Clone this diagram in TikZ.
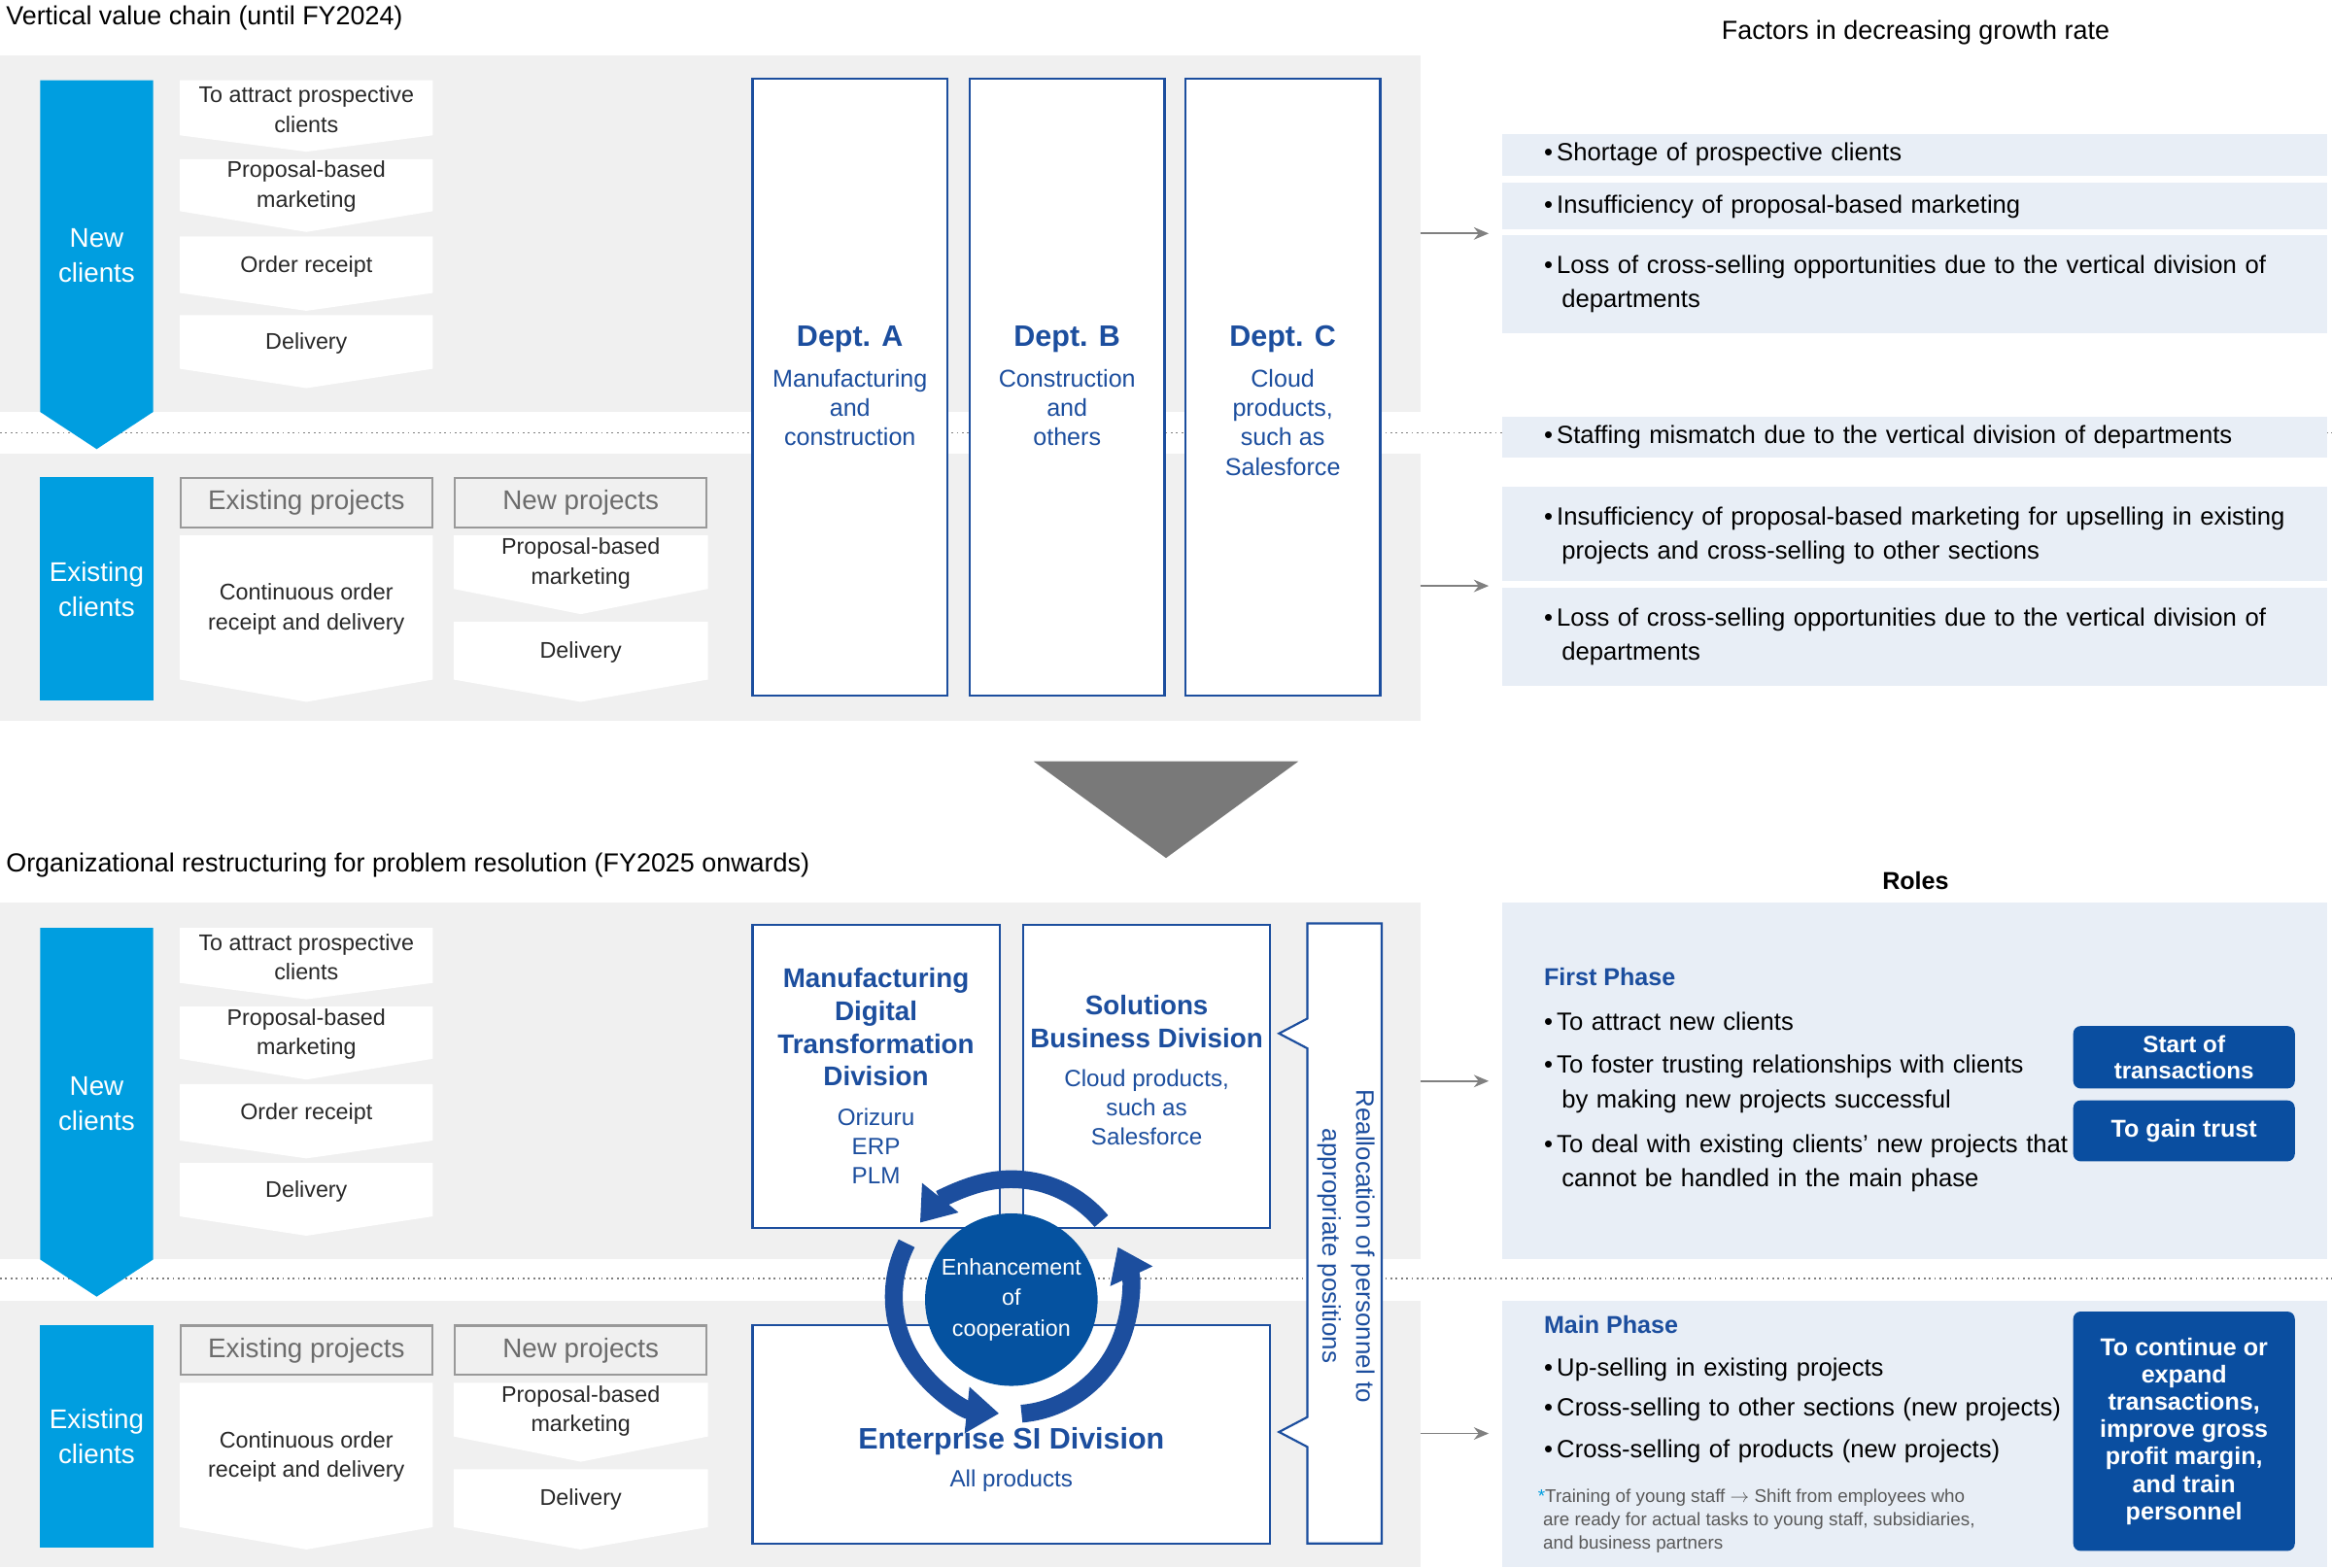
\documentclass[tikz,border=0pt]{standalone}
\usepackage{fontspec}
\setmainfont{Liberation Sans}
\usetikzlibrary{arrows.meta}
\definecolor{cblue}{RGB}{0,158,224}
\definecolor{dblue}{RGB}{28,78,158}
\definecolor{btn}{RGB}{10,78,160}
\definecolor{cdark}{RGB}{5,82,160}
\definecolor{lpan}{RGB}{232,238,246}
\definecolor{gpan}{RGB}{240,240,240}
\definecolor{tgray}{RGB}{40,40,40}
\newcommand\fs[2]{\fontsize{#1}{#2}\selectfont}
\newcommand\chev[6]{%
 \fill[white] (#1,#3) -- (#2,#3) -- (#2,#4) -- ({(#1+#2)/2},#5) -- (#1,#4) -- cycle;
 \node[chevtext] at ({(#1+#2)/2},{(#3+#4)/2+1}) {#6};}
\newcommand\chevset[1]{%
 \begin{scope}[yshift=#1]
 \chev{121}{291}{54}{91}{102}{To attract prospective\\clients}
 \chev{121}{291}{107}{142}{156}{Proposal-based\\marketing}
 \chev{121}{291}{159}{197}{209}{Order receipt}
 \chev{121}{291}{212}{248}{261}{Delivery}
 \fill[cblue] (27,54) -- (103,54) -- (103,277) -- (65,302) -- (27,277) -- cycle;
 \node[bltext] at (65,172) {New\\clients};
 \fill[cblue] (27,321) rectangle (103,471);
 \node[bltext] at (65,396) {Existing\\clients};
 \node[projbox] at (206,338) {Existing projects};
 \node[projbox] at (390.5,338) {New projects};
 \chev{121}{291}{360}{457}{472}{Continuous order\\receipt and delivery}
 \chev{305}{476}{360}{396}{413}{Proposal-based\\marketing}
 \chev{305}{476}{418}{457}{472}{Delivery}
 \end{scope}}
\newcommand\bul[4][15.6cm]{\node[bultext,text width=#1] (#2) at (1034,#3) {\raggedright\hangindent=0.36cm\hangafter=1 \textbullet\,#4\par};}
\begin{document}
\begin{tikzpicture}[x=0.03cm,y=-0.03cm,
 chevtext/.style={align=center,text=tgray,font=\fs{13}{17}},
 bltext/.style={align=center,text=white,font=\fs{15.5}{20}},
 projbox/.style={draw=gray!80,line width=1.2pt,fill=gpan,minimum width=169*0.03cm,minimum height=33*0.03cm,text=gray!85!black,font=\fs{15.5}{18}},
 dept/.style={draw=dblue,line width=1.2pt,fill=white},
 dtitle/.style={align=center,text=dblue,font=\bfseries\fs{15.5}{18.8}},
 dsub/.style={align=center,text=dblue,font=\fs{13.5}{16.8}},
 bultext/.style={anchor=west,text=black,font=\fs{14.3}{19.6}},
 bar/.style={fill=lpan},
 garrow/.style={draw=gray,line width=1pt,-{Stealth[length=0.3cm,width=0.25cm]}},
 button/.style={fill=btn,rounded corners=0.15cm,text=white,align=center,font=\bfseries\fs{13.5}{15.5}},
 ring/.style={draw=dblue,line width=0.36cm,-{Triangle[length=0.65cm,width=0.9cm]}}]
\useasboundingbox (0,0) rectangle (1568,1054);
% ===== top =====
\node[anchor=west,font=\fs{15}{18}] (t1) at (0,12) {Vertical value chain (until FY2024)};
\node[font=\fs{15}{18}] (t2) at (1288,22) {Factors in decreasing growth rate};
\fill[gpan] (0,37) rectangle (955,277);
\fill[gpan] (0,305) rectangle (955,485);
\draw[dotted,gray,line width=1pt] (0,291) -- (1568,291);
\chevset{0}
\node[dept,minimum width=131*0.03cm,minimum height=415*0.03cm] (da) at (571.5,260.5) {};
\node[dept,minimum width=131*0.03cm,minimum height=415*0.03cm] (db) at (717.5,260.5) {};
\node[dept,minimum width=131*0.03cm,minimum height=415*0.03cm] (dc) at (862.5,260.5) {};
\node[dtitle,font=\bfseries\fs{17}{20}] (dat) at (571.5,228) {Dept. A};
\node[dtitle,font=\bfseries\fs{17}{20}] (dbt) at (717.5,228) {Dept. B};
\node[dtitle,font=\bfseries\fs{17}{20}] (dct) at (862.5,228) {Dept. C};
\node[dsub,anchor=north,font=\fs{14}{17}] at (571.5,244) {Manufacturing\\and\\construction};
\node[dsub,anchor=north,font=\fs{14}{17}] at (717.5,244) {Construction\\and\\others};
\node[dsub,anchor=north,font=\fs{14}{17}] at (862.5,244) {Cloud\\products,\\such as\\Salesforce};
\fill[bar] (1010,90) rectangle (1565,118);
\fill[bar] (1010,123) rectangle (1565,154);
\fill[bar] (1010,158) rectangle (1565,224);
\fill[bar] (1010,280) rectangle (1565,308);
\fill[bar] (1010,327) rectangle (1565,391);
\fill[bar] (1010,395) rectangle (1565,461);
\bul{b1}{104}{Shortage of prospective clients}
\bul{b2}{139}{Insufficiency of proposal-based marketing}
\bul{b3}{191}{Loss of cross-selling opportunities due to the vertical division of departments}
\bul{b4}{294}{Staffing mismatch due to the vertical division of departments}
\bul{b5}{360}{Insufficiency of proposal-based marketing for upselling in existing projects and cross-selling to other sections}
\bul{b6}{428}{Loss of cross-selling opportunities due to the vertical division of departments}
\coordinate (a1s) at (955,157); \coordinate (a1e) at (1001,157);
\coordinate (a2s) at (955,394); \coordinate (a2e) at (1001,394);
\draw[garrow] (a1s) -- (a1e);
\draw[garrow] (a2s) -- (a2e);
% triangle
\fill[gray!95!black] (695,512) -- (873,512) -- (784,577) -- cycle;
% ===== bottom =====
\node[anchor=west,font=\fs{15}{18}] (t3) at (0,582) {Organizational restructuring for problem resolution (FY2025 onwards)};
\node[font=\bfseries\fs{14}{18}] (t4) at (1288,592) {Roles};
\fill[gpan] (0,607) rectangle (955,847);
\fill[gpan] (0,875) rectangle (955,1054);
\fill[lpan] (1010,607) rectangle (1565,847);
\fill[lpan] (1010,875) rectangle (1565,1054);
\draw[dotted,gray,line width=1pt] (0,860) -- (1568,860);
\chevset{-570*0.03cm}
\node[dept,minimum width=166*0.03cm,minimum height=204*0.03cm] (mdt) at (589,724) {};
\node[dept,minimum width=166*0.03cm,minimum height=204*0.03cm] (sol) at (771,724) {};
\node[dept,minimum width=348*0.03cm,minimum height=147*0.03cm] (esi) at (680,964.5) {};
\node[dtitle,anchor=north] (mdtt) at (589,647) {Manufacturing\\Digital\\Transformation\\Division};
\node[dsub,anchor=north] (mdts) at (589,741) {Orizuru\\ERP\\PLM};
\node[dtitle,anchor=north] (solt) at (771,665) {Solutions\\Business Division};
\node[dsub,anchor=north] (sols) at (771,715) {Cloud products,\\such as\\Salesforce};
\node[dtitle,font=\bfseries\fs{17}{20}] (esit) at (680,969) {Enterprise SI Division};
\node[dsub] (esis) at (680,996) {All products};
\draw[dblue,line width=1.2pt,fill=white] (929,621) -- (879,621) -- (879,685) -- (860,695) -- (879,705) -- (879,953) -- (860,963) -- (879,973) -- (879,1038) -- (929,1038) -- cycle;
\node[text=dblue,align=center,rotate=-90,font=\fs{14.5}{19.5}] (realloc) at (905,838) {Reallocation of personnel to\\appropriate positions};
\begin{scope}[shift={(680,872)},x=0.03cm,y=0.03cm]
\node[circle,fill=cdark,minimum size=3.48cm,inner sep=0pt,text=white,align=center,font=\fs{13}{17.5}] (coop) at (0,-2) {Enhancement\\of\\cooperation};
\draw[ring] (40:79) arc (40:141:79);
\draw[ring] (153:79) arc (153:264:79);
\draw[ring] (275:79) arc (275:385:79);
\end{scope}
\node[anchor=west,text=dblue,font=\bfseries\fs{14}{18}] (fp) at (1034,657) {First Phase};
\bul{c1}{687}{To attract new clients}
\bul[9.7cm]{c2}{729}{To foster trusting relationships with clients by making new projects successful}
\bul[10.6cm]{c3}{782}{To deal with existing clients’ new projects that cannot be handled in the main phase}
\node[button,minimum width=149*0.03cm,minimum height=42*0.03cm] (bt1) at (1468.5,711) {Start of\\transactions};
\node[button,minimum width=149*0.03cm,minimum height=41*0.03cm,font=\bfseries\fs{14}{16}] (bt2) at (1468.5,760.5) {To gain trust};
\node[anchor=west,text=dblue,font=\bfseries\fs{14}{18}] (mp) at (1034,891) {Main Phase};
\bul{m1}{921}{Up-selling in existing projects}
\bul{m2}{948}{Cross-selling to other sections (new projects)}
\bul{m3}{976}{Cross-selling of products (new projects)}
\node[anchor=north west,align=left,text=gray!70!black,font=\fs{10.5}{13.4}] (fn) at (1030,997) {{\color{cblue}*}Training of young staff $\rightarrow$ Shift from employees who\\ \ are ready for actual tasks to young staff, subsidiaries,\\ \ and business partners};
\node[button,minimum width=149*0.03cm,minimum height=161*0.03cm,font=\bfseries\fs{14}{15.7}] (bt3) at (1468.5,962.5) {To continue or\\expand\\transactions,\\improve gross\\profit margin,\\and train\\personnel};
\coordinate (a3s) at (955,727); \coordinate (a3e) at (1001,727);
\coordinate (a4s) at (955,964); \coordinate (a4e) at (1001,964);
\draw[garrow] (a3s) -- (a3e);
\draw[garrow] (a4s) -- (a4e);
\end{tikzpicture}
\end{document}
